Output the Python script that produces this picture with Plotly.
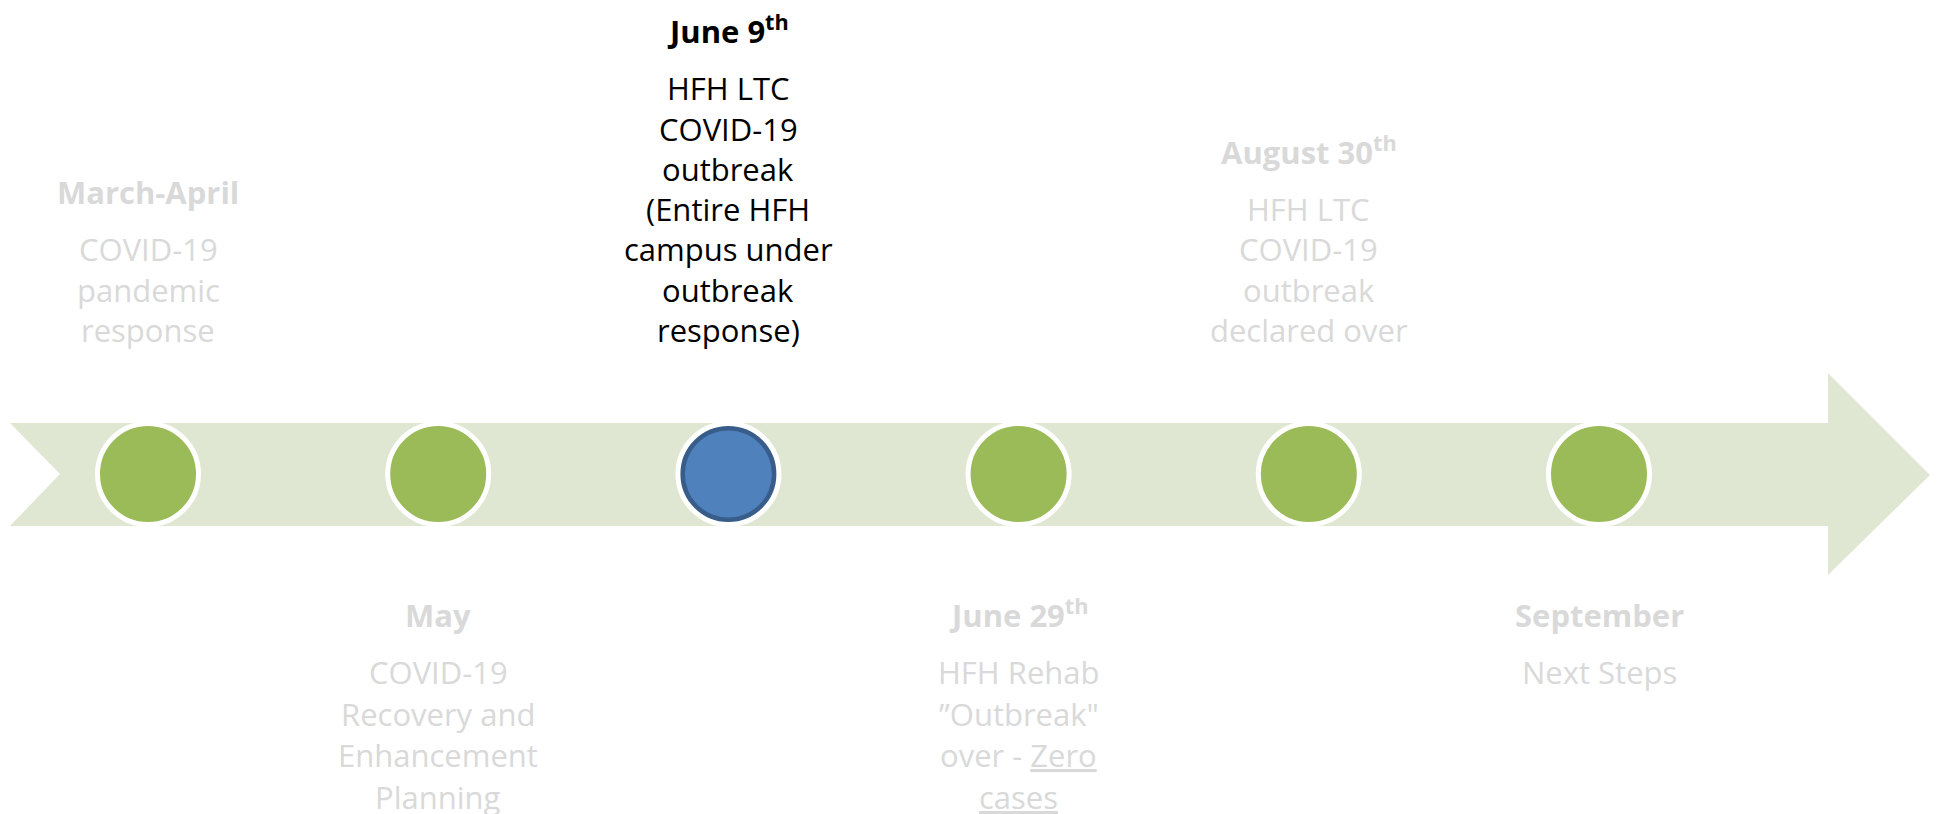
import plotly.graph_objects as go

# ---- data ----
headers = ["March-April", "May", "June 9<sup>th</sup>", "June 29<sup>th</sup>",
           "August 30<sup>th</sup>", "September"]
descriptions = [
    ["COVID-19", "pandemic", "response"],
    ["COVID-19", "Recovery and", "Enhancement", "Planning"],
    ["HFH LTC", "COVID-19", "outbreak", "(Entire HFH", "campus under", "outbreak", "response)"],
    ["HFH Rehab", "\u201dOutbreak\"", "over - <u>Zero</u>", "<u>cases</u>"],
    ["HFH LTC", "COVID-19", "outbreak", "declared over"],
    ["Next Steps"],
]
sides = ["top", "bottom", "top", "bottom", "top", "bottom"]
active = [False, False, True, False, False, False]
positions = list(range(len(headers)))

# ---- layout constants ----
W, H = 1939, 814
X0_PX, STEP_PX = 148, 290.2
CY = 474
FONT = "Open Sans"
FS = 31
GREY = "#D9D9D9"
GREEN = "#9BBB59"
BAND = "#DFE7D2"

TOP_LAST_BASE = 338     # baseline of last line of top blocks
TOP_STEP = 40.3
BOT_FIRST_BASE = 680    # baseline of first body line of bottom blocks
BOT_STEP = 41.5
HDR_GAP = 57            # header baseline -> first body baseline
BASE_TO_BOTTOM = 15     # baseline -> bottom edge of annotation box


def px_to_paper(px, py):
    return px / W, 1 - py / H


arrow_px = [(10, 423), (1828, 423), (1828, 373), (1930, 475), (1828, 575),
            (1828, 526), (10, 526), (60, 474)]
path = "M " + " L ".join(f"{px_to_paper(x, y)[0]:.5f},{px_to_paper(x, y)[1]:.5f}" for x, y in arrow_px) + " Z"

fig = go.Figure()

fig.add_shape(type="path", path=path, xref="paper", yref="paper",
              fillcolor=BAND, line=dict(width=0), layer="below")

outer_colors = ["#385D8A" if a else GREEN for a in active]
fig.add_trace(go.Scatter(
    x=positions, y=[CY] * len(positions), mode="markers",
    marker=dict(size=101, color=outer_colors, line=dict(color="white", width=5)),
    hoverinfo="skip", showlegend=False))
act_x = [p for p, a in zip(positions, active) if a]
fig.add_trace(go.Scatter(
    x=act_x, y=[CY] * len(act_x), mode="markers",
    marker=dict(size=87, color="#4F81BD", line=dict(width=0)),
    hoverinfo="skip", showlegend=False))


def put(x, baseline, text, col):
    fig.add_annotation(x=x, xref="x", y=1 - (baseline + BASE_TO_BOTTOM) / H, yref="paper",
                       text=text, showarrow=False,
                       xanchor="center", yanchor="bottom", align="center",
                       font=dict(family=FONT, size=FS, color=col))


for p, h, lines, side, a in zip(positions, headers, descriptions, sides, active):
    col = "#000000" if a else GREY
    n = len(lines)
    if side == "top":
        first = TOP_LAST_BASE - TOP_STEP * (n - 1)
        step = TOP_STEP
    else:
        first = BOT_FIRST_BASE
        step = BOT_STEP
    put(p, first - HDR_GAP, f"<b>{h}</b>", col)
    for k, ln in enumerate(lines):
        put(p, first + k * step, ln, col)

fig.update_layout(
    width=W, height=H, margin=dict(l=0, r=0, t=0, b=0),
    paper_bgcolor="white", plot_bgcolor="white",
    xaxis=dict(range=[-X0_PX / STEP_PX, (W - X0_PX) / STEP_PX], visible=False, fixedrange=True),
    yaxis=dict(range=[H, 0], visible=False, fixedrange=True),
    showlegend=False,
)

fig.write_html("out.html", config={"displayModeBar": False},
               post_script="document.body.style.margin='0px';")
